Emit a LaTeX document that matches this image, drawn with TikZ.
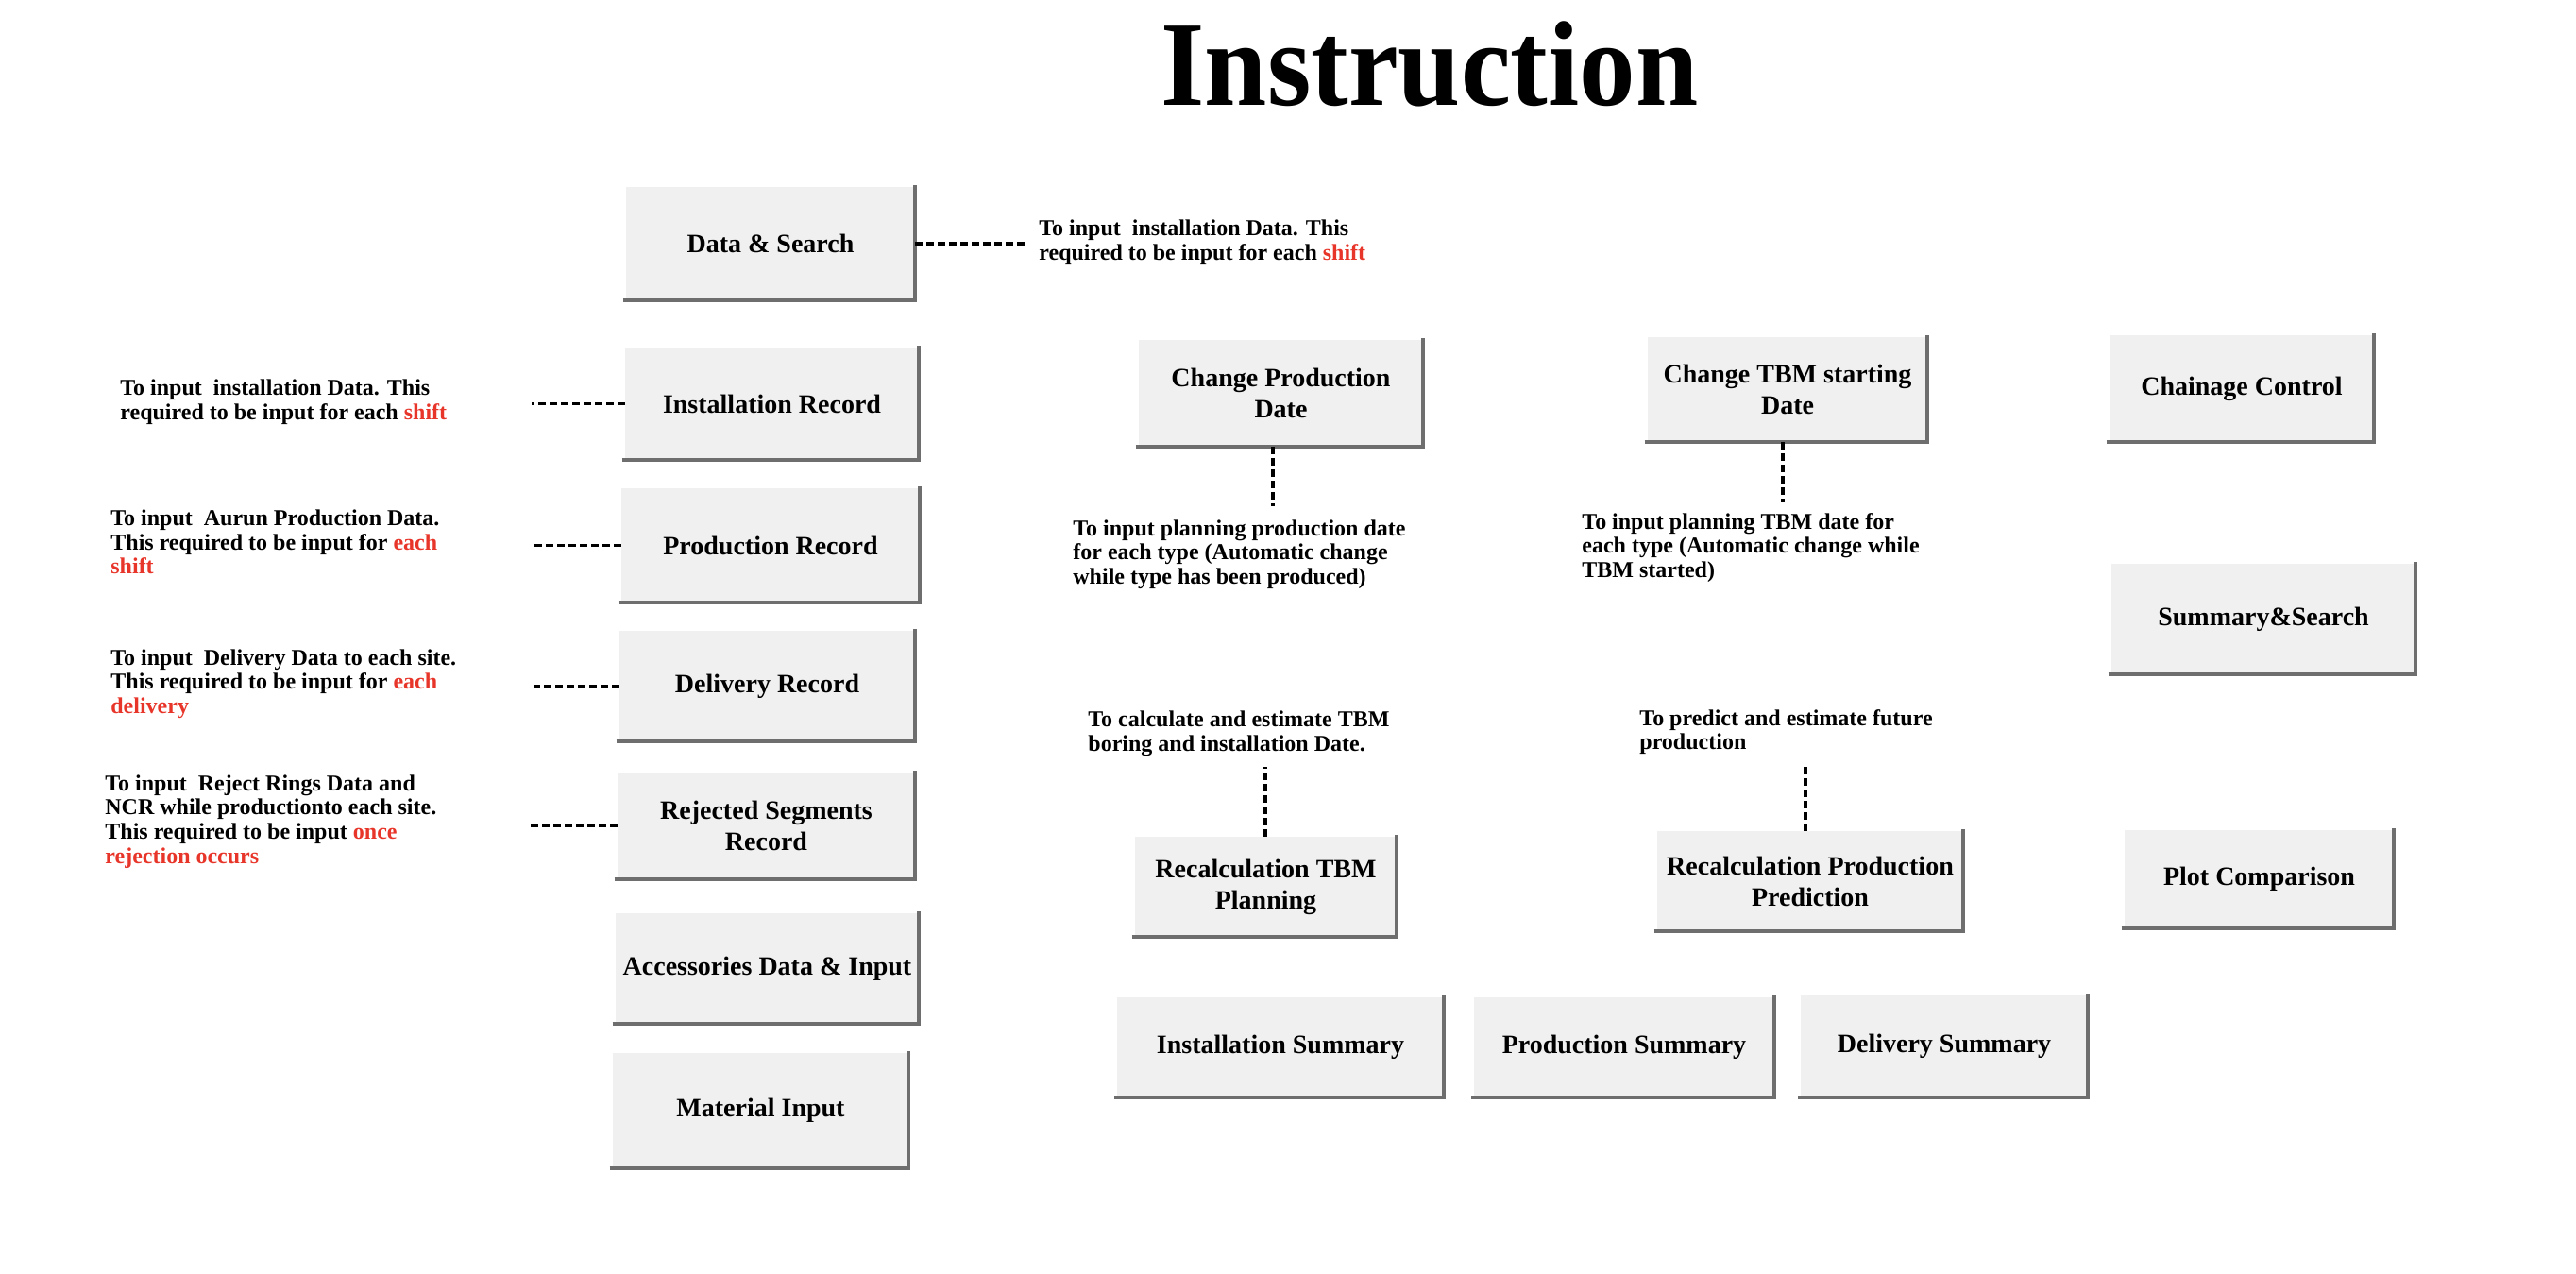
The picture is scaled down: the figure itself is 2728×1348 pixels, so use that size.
\documentclass[tikz,border=0pt]{standalone}
\usepackage{fontspec}
\setmainfont{Liberation Serif}
\definecolor{btnfill}{HTML}{F0F0F0}
\definecolor{btnshade}{HTML}{6E6E6E}
\definecolor{hl}{HTML}{E8352A}
\newcommand{\hlt}[1]{\textcolor{hl}{#1}}
\begin{document}
\begin{tikzpicture}[x=0.5pt,y=-0.5pt,
  btn/.style={fill=btnfill, draw=none, font=\fontsize{14}{16.5}\selectfont\bfseries, align=center, inner sep=0pt},
  btnshadow/.style={draw=btnshade, line width=2pt},
  desc/.style={font=\fontsize{12}{12.8}\selectfont\bfseries, align=left, inner sep=0pt, anchor=west},
  dl/.style={line width=1.6pt, dash pattern=on 4pt off 2pt}]
\useasboundingbox (0,0) rectangle (2728,1348);

% title
\node[anchor=base, inner sep=0pt, font=\fontsize{64}{64}\selectfont\bfseries] (title) at (1514,112) {\scalebox{0.93}[1]{Instruction}};

% buttons (sizes: full-image px / 2 = pt)
\node[btn, minimum width=153pt, minimum height=60pt] (ds) at (816,258) {Data \& Search};
\node[btn, minimum width=155.5pt, minimum height=59.5pt] (ir) at (817.5,427.5) {Installation Record};
\node[btn, minimum width=158pt, minimum height=60.5pt] (pr) at (816,577.5) {Production Record};
\node[btn, minimum width=156.5pt, minimum height=58.5pt] (dr) at (812.5,726.5) {Delivery Record};
\node[btn, minimum width=157.5pt, minimum height=56.5pt] (rs) at (811.5,874.5) {Rejected Segments\\Record};
\node[btn, minimum width=160.5pt, minimum height=58.5pt] (ad) at (812.5,1025.5) {Accessories Data \& Input};
\node[btn, minimum width=156.5pt, minimum height=61pt] (mi) at (805.5,1176) {Material Input};
\node[btn, minimum width=150.5pt, minimum height=56.5pt] (cpd) at (1356.5,416.5) {Change Production\\Date};
\node[btn, minimum width=148pt, minimum height=55.5pt] (ctd) at (1893,412.5) {Change TBM starting\\Date};
\node[btn, minimum width=140pt, minimum height=56.5pt] (cc) at (2374,411.5) {Chainage Control};
\node[btn, minimum width=161pt, minimum height=58.5pt] (ss) at (2397,655.5) {Summary\&Search};
\node[btn, minimum width=138.5pt, minimum height=53pt] (rtp) at (1340.5,939) {Recalculation TBM\\Planning};
\node[btn, minimum width=162pt, minimum height=53pt] (rpp) at (1917,933) {Recalculation Production\\Prediction};
\node[btn, minimum width=142.5pt, minimum height=52pt] (pc) at (2392.5,931) {Plot Comparison};
\node[btn, minimum width=173pt, minimum height=53pt] (is) at (1356,1109) {Installation Summary};
\node[btn, minimum width=159pt, minimum height=53pt] (ps) at (1720,1109) {Production Summary};
\node[btn, minimum width=152pt, minimum height=54pt] (dsm) at (2059,1108) {Delivery Summary};

\foreach \n in {ds,ir,pr,dr,rs,ad,mi,cpd,ctd,cc,ss,rtp,rpp,pc,is,ps,dsm}{
  \draw[btnshadow] ([xshift=-1.5pt]\n.south west) -- (\n.south east) -- ([yshift=1pt]\n.north east);
}

% descriptions
\node[desc] (dDS) at (1100,257) {To input~ installation Data. This\\required to be input for each \hlt{shift}};
\node[desc] (dA) at (127,426) {To input~ installation Data. This\\required to be input for each \hlt{shift}};
\node[desc] (dB) at (117,574) {To input~ Aurun Production Data.\\This required to be input for \hlt{each}\\\hlt{shift}};
\node[desc] (dC) at (117,724) {To input~ Delivery Data to each site.\\This required to be input for \hlt{each}\\\hlt{delivery}};
\node[desc] (dD) at (111,870) {To input~ Reject Rings Data and\\NCR while productionto each site.\\This required to be input \hlt{once}\\\hlt{rejection occurs}};
\node[desc] (dE) at (1136,587) {To input planning production date\\for each type (Automatic change\\while type has been produced)};
\node[desc] (dF) at (1675,580) {To input planning TBM date for\\each type (Automatic change while\\TBM started)};
\node[desc] (dG) at (1152,777) {To calculate and estimate TBM\\boring and installation Date.};
\node[desc] (dH) at (1736,775) {To predict and estimate future\\production};

% connector free ends
\coordinate (cDS) at (1086,258);
\coordinate (cA) at (563,427.5);
\coordinate (cB) at (565,577.5);
\coordinate (cC) at (565,726.5);
\coordinate (cD) at (558,874.5);
\coordinate (cE) at (1348,536);
\coordinate (cF) at (1888,532);
\coordinate (cG) at (1340,812);
\coordinate (cH) at (1912,811);

\draw[dl] (ds.east) -- (cDS);
\draw[dl] (ir.west) -- (cA);
\draw[dl] (pr.west) -- (cB);
\draw[dl] (dr.west) -- (cC);
\draw[dl] (rs.west) -- (cD);
\draw[dl] (cpd.south -| cE) -- (cE);
\draw[dl] (ctd.south -| cF) -- (cF);
\draw[dl] (rtp.north -| cG) -- (cG);
\draw[dl] (rpp.north -| cH) -- (cH);
\end{tikzpicture}
\end{document}
